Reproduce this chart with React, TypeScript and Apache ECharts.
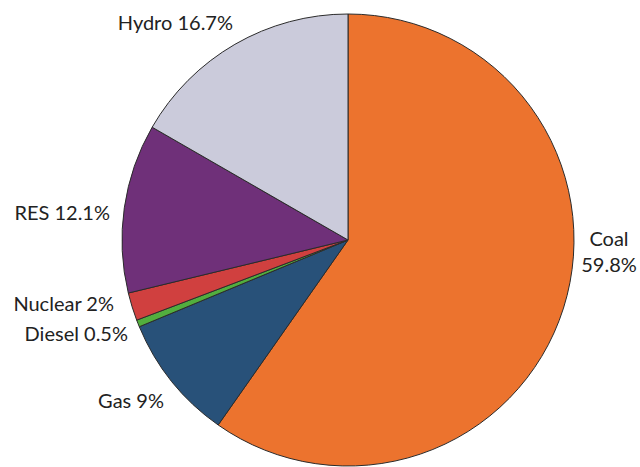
import React, { useEffect, useRef } from "react";
import * as echarts from "echarts";

const categories = ["Coal", "Gas", "Diesel", "Nuclear", "RES", "Hydro"];
const values = [59.8, 9, 0.5, 2, 12.1, 16.7];
const colors = ["#EC732E", "#285179", "#52AE3E", "#D0403F", "#6F3079", "#CBCBDB"];

// label anchor placement (layout only)
const labelAnchors: { x: number; y: number; align: string }[] = [
  { x: 609, y: 251, align: "center" },
  { x: 164, y: 400, align: "right" },
  { x: 128, y: 333, align: "right" },
  { x: 114, y: 303, align: "right" },
  { x: 110, y: 212, align: "right" },
  { x: 233, y: 22, align: "right" },
];

export default function App() {
  const ref = useRef<HTMLDivElement>(null);
  useEffect(() => {
    if (!ref.current) return;
    const chart = echarts.init(ref.current, null, { renderer: "svg" });
    chart.setOption({
      animation: false,
      backgroundColor: "#ffffff",
      series: [
        {
          type: "pie",
          center: [348, 240],
          radius: 226,
          startAngle: 90,
          clockwise: true,
          avoidLabelOverlap: false,
          itemStyle: { borderColor: "#2b2b2b", borderWidth: 1 },
          label: {
            show: true,
            position: "outside",
            color: "#222",
            fontFamily: "Lato",
            fontSize: 20,
            overflow: "none",
            formatter: (p: any) =>
              p.name === "Coal" ? `${p.name}\n${p.value}%` : `${p.name} ${p.value}%`,
            lineHeight: 26,
          },
          labelLine: { show: false },
          labelLayout: (params: any) => {
            const a = labelAnchors[params.dataIndex];
            return {
              x: a.x,
              y: a.y,
              align: a.align,
              verticalAlign: "middle",
              hideOverlap: false,
            };
          },
          emphasis: { disabled: true },
          data: categories.map((c, i) => ({
            name: c,
            value: values[i],
            itemStyle: { color: colors[i] },
          })),
        },
      ],
    });
    return () => chart.dispose();
  }, []);
  return (
    <div
      ref={ref}
      style={{ position: "absolute", left: 0, top: 0, width: 640, height: 467 }}
    />
  );
}
